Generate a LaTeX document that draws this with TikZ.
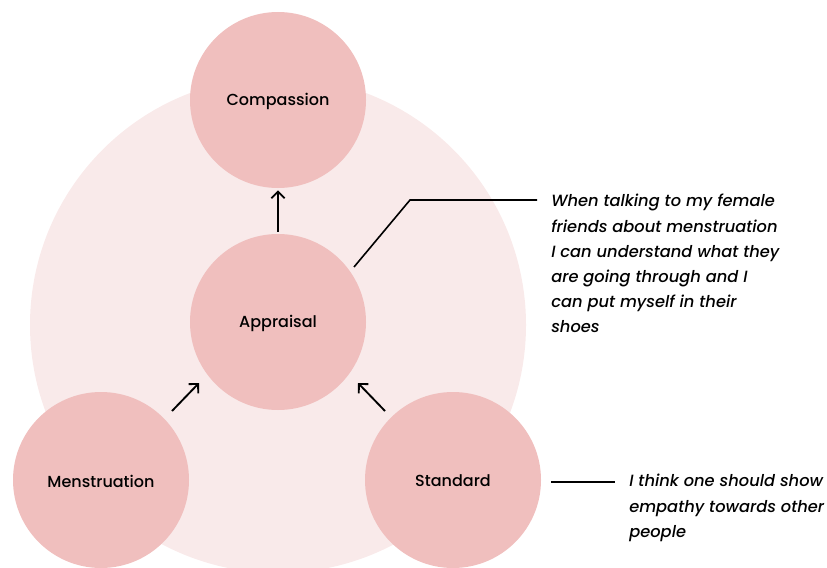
\documentclass[tikz,border=0pt]{standalone}
\usepackage{fontspec}
\setmainfont{Poppins}[UprightFont=* Medium,ItalicFont=* Medium Italic,BoldFont=* SemiBold]
\usetikzlibrary{arrows.meta,calc}
\definecolor{ringbg}{HTML}{F9EAEA}
\definecolor{bubble}{HTML}{F0BFBE}
\begin{document}
\begin{tikzpicture}[x=0.75pt,y=-0.75pt,
  bubblenode/.style={circle,fill=bubble,minimum size=176*0.75pt,inner sep=0pt},
  bubbletext/.style={font=\fontsize{12}{15}\selectfont,inner sep=0pt},
  link/.style={draw=black,line width=1.4pt,-{Straight Barb[length=5pt,width=10pt]}},
  callout/.style={draw=black,line width=1.2pt},
  quote/.style={align=left,anchor=north west,inner sep=0pt,font=\fontsize{12.2}{18.9}\selectfont\itshape}]
\useasboundingbox (0,0) rectangle (827,567);
\begin{scope}
\clip (0,0) rectangle (827,567);
\fill[ringbg] (278,325) circle (248*0.75pt);
\end{scope}
% the four concept bubbles
\node[bubblenode] (comp) at (278,100) {};
\node[bubblenode] (appr) at (278,322) {};
\node[bubblenode] (mens) at (101,480) {};
\node[bubblenode] (stan) at (453,480) {};
\node[bubbletext] (compt) at (278,101) {Compassion};
\node[bubbletext] (apprt) at (278,323) {Appraisal};
\node[bubbletext] (menst) at (101,481) {Menstruation};
\node[bubbletext] (stant) at (453,481) {Standard};
% arrows between the bubbles
\path[link] ($(appr.north)+(0,-2)$) -- ($(comp.south)+(0,2)$);
\coordinate (m1) at (172,411);
\coordinate (m2) at (199,383);
\coordinate (s1) at (385,411);
\coordinate (s2) at (358,383);
\path[link] (m1) -- (m2);
\path[link] (s1) -- (s2);
% callouts with quotes
\coordinate (c1) at (354,267);
\coordinate (c2) at (410,200);
\coordinate (c3) at (537,200);
\draw[callout] (c1) -- (c2) -- (c3);
\coordinate (d1) at (551,482);
\coordinate (d2) at (615,482);
\draw[callout] (d1) -- (d2);
\node[quote] (q1) at (551,194) {When talking to my female\\friends about menstruation\\I can understand what they\\are going through and I\\can put myself in their\\shoes};
\node[quote] (q2) at (629,474) {I think one should show\\empathy towards other\\people};
\end{tikzpicture}
\end{document}
